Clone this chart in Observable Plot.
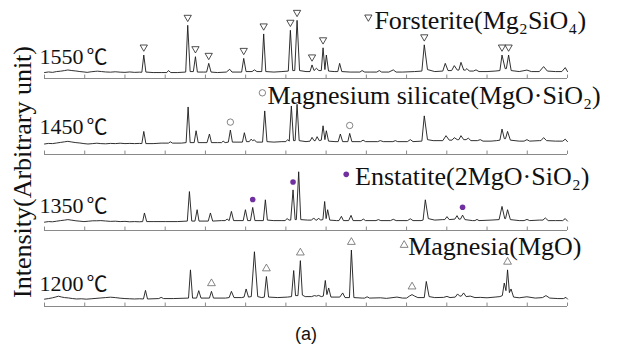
<!DOCTYPE html>
<html><head><meta charset="utf-8">
<script src="https://cdn.jsdelivr.net/npm/d3@7"></script>
<script src="https://cdn.jsdelivr.net/npm/@observablehq/plot@0.6"></script>
<style>body{margin:0;background:#fff}#chart{width:617px;height:351px}</style>
</head><body><div id="chart"></div>
<script>
// ---- data ----
const temps = ["1550", "1450", "1350", "1200"];
const tempLabels = ["1550℃", "1450℃", "1350℃", "1200℃"];
const xTicks = [5, 10, 15, 20, 25, 30, 35, 40, 45, 50, 55, 60, 65, 70];

const trace1550 = [[5,6],[5.5,6.6],[6,6.2],[6.5,7],[7,7.4],[7.5,8],[7.9,8.6],[8.4,8],[8.9,7.6],[9.4,7],[9.9,6.6],[10.3,6.2],[10.8,6.8],[11.3,7.2],[11.6,7.4],[12.1,7],[12.6,6.6],[13.2,6.4],[13.8,6.8],[14.4,6.4],[15,6.2],[15.6,6.6],[16.2,6.2],[16.8,6.4],[17.1,6.3],[17.34,23.7],[17.6,6.5],[18.5,6],[19.5,6],[20.2,6],[20.4,8],[20.7,6],[21.5,6],[22.55,6.5],[22.8,53.7],[23.1,7],[23.5,7],[23.76,22],[24.0,6.5],[24.8,6.5],[25.15,6.5],[25.41,15.3],[25.7,6.5],[26.5,6],[27.6,6.5],[28.02,9.3],[28.3,6.5],[29.5,6.5],[29.76,20.3],[30.05,7],[30.8,7],[31.09,8.7],[31.4,7],[32.0,7],[32.24,45],[32.5,7],[33.5,6.5],[34.5,7],[35.3,7.5],[35.56,48.7],[35.85,8],[36.1,8],[36.39,58.7],[36.7,8],[37.5,7],[38.0,7],[38.25,13.7],[38.5,8],[38.79,10.3],[39.1,8],[39.4,8],[39.62,31],[39.85,9],[40.03,23.7],[40.3,7.5],[41.0,7],[41.45,7],[41.68,15.3],[41.95,7],[43,6.5],[44.2,6.5],[44.47,8],[44.8,6.5],[45.5,6.5],[46.3,6.5],[46.61,8],[46.9,6.5],[47.8,6.5],[48.35,8.7],[48.7,6.5],[49.5,6.5],[51,7],[51.9,7.5],[52.2,34],[52.6,9],[53.5,7],[54.5,7.5],[54.81,15.3],[55.15,8],[55.6,8],[55.93,13],[56.3,8.5],[56.5,8.5],[56.76,16.3],[57.1,8.5],[57.3,8.5],[57.5,10],[57.8,7.5],[58.3,7.5],[58.63,8.7],[59,7],[60,7],[61,7.5],[61.6,8],[61.86,23.7],[62.25,10],[62.4,10],[62.68,23.7],[63.0,8],[64,7],[64.96,8.5],[65.5,7],[66.5,7],[67.03,12],[67.5,7.5],[68.5,7],[69.3,7],[69.72,11],[70,7]];

const trace1450 = [[5,10.6],[5.5,11.2],[6,11],[6.5,11.6],[7,12.2],[7.5,12.8],[7.9,13.3],[8.4,12.6],[8.9,12],[9.4,11.6],[9.9,11],[10.4,10.6],[11,11],[11.5,11.4],[12,11],[12.6,10.8],[13.2,11.2],[13.8,11],[14.4,11.4],[15,11],[15.6,11.2],[16.2,11],[16.8,11.2],[17.1,11],[17.34,23.3],[17.6,11],[18.5,11],[19.5,11.5],[20.4,11.5],[20.65,12.8],[20.9,11.5],[22,11.5],[22.6,12],[22.85,48],[23.1,12],[23.6,12],[23.84,24],[24.1,12],[25.2,12],[25.5,20.7],[25.75,12],[26.5,12],[27.0,12],[27.2,13.5],[27.45,12],[27.85,12.5],[28.1,24.7],[28.35,12.5],[29.6,12.5],[29.84,22],[30.1,13],[30.45,13],[30.68,15.5],[30.85,14],[31.09,14.8],[31.35,12.5],[32.1,12.5],[32.37,44],[32.65,13],[33.5,12.5],[34.5,13],[35.0,13],[35.22,15],[35.42,13.5],[35.68,49],[35.95,14],[36.15,14],[36.39,50.7],[36.65,14],[37.5,13],[38.0,13.5],[38.25,17.3],[38.5,14],[38.65,14],[38.88,18],[39.15,14],[39.4,14.5],[39.62,29],[39.85,15],[40.03,24],[40.3,13.5],[41.1,13],[41.5,13],[41.77,20.7],[42.05,13],[42.7,13],[42.93,21.3],[43.2,13],[44.3,13],[44.59,14.5],[44.9,13],[46.4,13],[46.74,14],[47.1,13],[48.3,13],[48.6,14],[48.9,13],[50.1,13],[50.47,15],[50.8,13],[51.9,13.5],[52.2,39],[52.6,15],[53.3,14],[54.5,14],[54.9,19],[55.3,14.5],[55.65,14.5],[55.93,17],[56.3,15],[56.5,15],[56.76,19],[57.1,15],[57.4,15],[57.67,16.5],[58,14],[58.8,14],[59.16,15],[59.5,13.5],[60.5,13.5],[61.2,14],[61.6,14.5],[61.86,25.7],[62.15,16],[62.3,16],[62.55,23.3],[62.9,14.5],[64,13.5],[64.6,13.5],[64.96,15],[65.3,13.5],[66.5,14],[66.7,14],[67.03,17],[67.4,14],[68.5,13.5],[69.4,13.5],[69.72,15.5],[70,13]];

const trace1350 = [[5,8.4],[5.5,9],[6,8.8],[6.5,9.4],[7,10],[7.5,10.5],[7.9,11],[8.4,10.4],[8.9,9.8],[9.4,9.4],[9.9,9],[10.5,9.4],[11,9.8],[11.5,9.8],[12,10],[12.6,9.6],[13.2,9.2],[13.8,9.4],[14.4,9],[15,9.2],[15.6,8.8],[16.2,9],[16.8,8.8],[17.2,9],[17.42,17.7],[17.7,9],[18.5,9],[20,9],[21.5,9],[22.75,9.5],[23.01,39.3],[23.3,9.5],[23.7,9.5],[23.97,21],[24.2,9.5],[25.35,9.5],[25.62,17.7],[25.9,9.5],[27.0,10],[27.45,10],[27.7,11.5],[27.95,10],[28.23,19.3],[28.5,10],[29.7,10],[29.97,21],[30.25,10],[30.6,10],[30.88,23.3],[31.15,10],[32.2,10],[32.45,31],[32.7,10.5],[33.5,10],[34.5,10],[34.9,10],[35.15,12],[35.4,10.5],[35.6,10.5],[35.89,41],[36.15,11],[36.3,11],[36.59,59.3],[36.85,11],[37.7,10.5],[38.2,10.5],[38.45,12.7],[38.7,10.5],[38.85,10.5],[39.07,12.5],[39.3,10.5],[39.6,11],[39.82,29.3],[40.0,12],[40.19,21],[40.45,10.5],[41.3,10],[41.6,10],[41.9,14.3],[42.15,10],[42.8,10],[43.1,15.3],[43.35,10],[44.35,10],[44.63,11.5],[44.9,10],[46.2,10],[46.49,11],[46.8,10],[48.0,10],[48.35,11.3],[48.7,10],[50.1,10],[50.47,11.8],[50.8,10],[51.8,10],[52.05,10.5],[52.33,31],[52.7,12],[53.5,10.5],[54.5,11],[54.75,11],[55.02,14],[55.3,11],[56.0,11.5],[56.27,15],[56.5,11.5],[56.7,11.5],[56.96,15.5],[57.25,11],[58.2,10],[58.5,10],[58.75,11.2],[59.0,10],[60.5,10.5],[61.5,11],[61.86,24.3],[62.2,12],[62.3,12],[62.55,21],[62.9,11],[64.0,10],[64.6,10],[64.96,11.2],[65.3,10],[66.5,10.5],[66.95,10.5],[67.24,12.7],[67.6,10],[68.5,10],[69.4,10],[69.72,12],[70,9.5]];

const trace1200 = [[5,7.4],[5.5,8],[6,8.8],[6.4,9.6],[6.74,10.4],[7.1,9.6],[7.5,9],[8,8.6],[8.5,8],[9,7.6],[9.6,7.8],[10.2,7.4],[10.8,7.8],[11.4,8.2],[12,8.6],[12.6,9],[13.2,9.4],[13.8,9],[14.4,8.4],[15,8],[15.6,7.8],[16.2,7.6],[16.8,7.8],[17.3,7.6],[17.55,16.3],[17.8,7.6],[19.2,8],[19.5,9.2],[19.8,8],[21,8],[22.9,8.5],[23.14,37],[23.4,8.5],[23.9,8.5],[24.17,16],[24.45,8.5],[25.5,8.5],[25.75,15.3],[26.0,8.5],[27.5,8.5],[27.95,9],[28.23,15.3],[28.55,9],[29.5,9],[29.8,9.5],[30.06,17.7],[30.35,9.5],[30.7,10],[31.09,55.3],[31.5,10],[32.0,9],[32.32,9.5],[32.58,30.3],[32.85,9.5],[34.0,9],[35.2,9.5],[35.7,10],[35.97,36.3],[36.2,11],[36.5,11],[36.8,46.3],[37.05,11.5],[37.4,10],[38.2,10],[38.54,11],[38.8,10.5],[39.07,11.2],[39.4,10],[39.65,10.5],[39.9,26.3],[40.1,12],[40.32,18.7],[40.6,9.5],[41.7,9.5],[42.06,13.7],[42.35,9],[42.9,9],[43.14,57],[43.45,9],[44.5,8.5],[44.8,8.5],[45.09,9.8],[45.4,8.5],[46.74,8.8],[47.5,8.2],[48.8,9.5],[49.5,8.5],[50.0,8.5],[50.35,10.5],[50.68,12],[51.0,10.5],[51.4,9],[52.2,9],[52.45,25.3],[52.8,10],[53.5,9],[54.6,9.2],[55.02,10.2],[55.4,9],[56.05,9.5],[56.34,12.7],[56.6,10.5],[56.8,10.5],[57.09,13.7],[57.4,10],[57.92,10.5],[58.5,9],[59.16,9.2],[60.0,8.8],[61.0,9.5],[61.6,10],[61.9,11],[62.14,23.7],[62.35,16],[62.55,37],[62.78,14],[62.98,17.7],[63.3,9.5],[64.0,8.8],[64.96,9.8],[66.0,8.5],[66.9,9],[67.32,11],[67.8,8.5],[68.8,8],[69.5,8],[69.81,9.2],[70,7.5]];

// peak positions (2θ) of the identified phases
const forsteritePeaks = [17.34, 22.8, 23.76, 25.41, 29.76, 32.24, 35.56, 36.39, 38.25, 39.62, 52.2, 61.86, 62.68];
const silicatePeaks = [28.1, 42.93];
const enstatitePeaks = [30.88, 35.89, 56.96];
const magnesiaPeaks = [25.75, 32.58, 36.8, 43.14, 50.68, 62.55];
const phaseNames = ["Forsterite(Mg₂SiO₄)", "Magnesium silicate(MgO·SiO₂)", "Enstatite(2MgO·SiO₂)", "Magnesia(MgO)"];

// ---- layout ----
const traces = [trace1550, trace1450, trace1350, trace1200];
const labelY = [15, 20.5, 18, 16];
const legendTextX = [46.0, 32.7, 43.6, 50.2];
const legendTextY = [50, 51, 46, 52];
const legendMarkX = [45.25, 32.08, 42.5, 49.7];
const legendMarkY = [62, 62.3, 56.7, 62];
const gap = 8;
const serif = "'Times New Roman','Liberation Serif',serif";

const rows = [];
traces.forEach((tr, i) => tr.forEach(([th, v]) => rows.push({t: temps[i], th, v})));
const peakTop = (tr, th) => tr.reduce((a, b) => Math.abs(b[0] - th) < Math.abs(a[0] - th) ? b : a)[1];
const mk = (peaks, i) => peaks.map(th => ({t: temps[i], th, v: peakTop(traces[i], th) + gap}));
const legendMk = (i) => [{t: temps[i], th: legendMarkX[i], v: legendMarkY[i]}];

const plot = Plot.plot({
  width: 617, height: 351,
  marginLeft: 44, marginRight: 50, marginTop: 0, marginBottom: 44,
  x: {domain: [5, 70], axis: null},
  y: {domain: [0, 76.75], axis: null},
  fy: {domain: temps, axis: null, padding: 0},
  marks: [
    Plot.ruleY([0], {stroke: "#8a8a8a", strokeWidth: 1}),
    Plot.ruleX(xTicks, {y1: 0, y2: 3.5, stroke: "#8a8a8a", strokeWidth: 1}),
    Plot.line(rows, {x: "th", y: "v", fy: "t", z: "t", stroke: "#1a1a1a", strokeWidth: 0.9}),
    Plot.dot(mk(forsteritePeaks, 0).concat(legendMk(0)), {x: "th", y: "v", fy: "t", symbol: "triangle", rotate: 180, r: 2.7, fill: "white", stroke: "#222", strokeWidth: 0.8}),
    Plot.dot(mk(silicatePeaks, 1).concat(legendMk(1)), {x: "th", y: "v", fy: "t", symbol: "circle", r: 3.2, fill: "white", stroke: "#666", strokeWidth: 0.8}),
    Plot.dot(mk(enstatitePeaks, 2).concat(legendMk(2)), {x: "th", y: "v", fy: "t", symbol: "circle", r: 2.8, fill: "#7030a0", stroke: "none"}),
    Plot.dot(mk(magnesiaPeaks, 3).concat(legendMk(3)), {x: "th", y: "v", fy: "t", symbol: "triangle", r: 2.9, fill: "white", stroke: "#666", strokeWidth: 0.8}),
    Plot.text(tempLabels, {x: 5, y: (d, i) => labelY[i], fy: (d, i) => temps[i], text: d => d, dx: -5, textAnchor: "start", lineAnchor: "bottom", fontSize: 22, fontFamily: serif, fill: "#111", className: "templabel"}),
    Plot.text(phaseNames, {x: (d, i) => legendTextX[i], y: (d, i) => legendTextY[i], fy: (d, i) => temps[i], text: d => d, textAnchor: "start", lineAnchor: "bottom", fontSize: 26, fontFamily: serif, fill: "#111"})
  ]
});
document.getElementById("chart").appendChild(plot);
const svg = d3.select(plot);
// render the degree-Celsius sign as a full-width glyph, as in the original figure
svg.selectAll("text").each(function () {
  const s = this.textContent;
  if (this.childElementCount === 0 && s.endsWith("℃")) {
    const el = d3.select(this);
    el.text(null);
    el.append("tspan").text(s.slice(0, -1));
    el.append("tspan").attr("dx", 3).attr("font-family", "'Noto Sans CJK SC','Noto Sans CJK JP',sans-serif").attr("font-size", 21).text("℃");
  }
});
svg.append("text").attr("transform", "translate(31,172) rotate(-90)").attr("text-anchor", "middle")
  .attr("font-family", serif).attr("font-size", 26).attr("fill", "#111").text("Intensity(Arbitrary unit)");
svg.append("text").attr("x", 306).attr("y", 340).attr("text-anchor", "middle")
  .attr("font-family", "Arial,'Liberation Sans',sans-serif").attr("font-size", 18).attr("fill", "#111").text("(a)");
</script>
</body></html>
